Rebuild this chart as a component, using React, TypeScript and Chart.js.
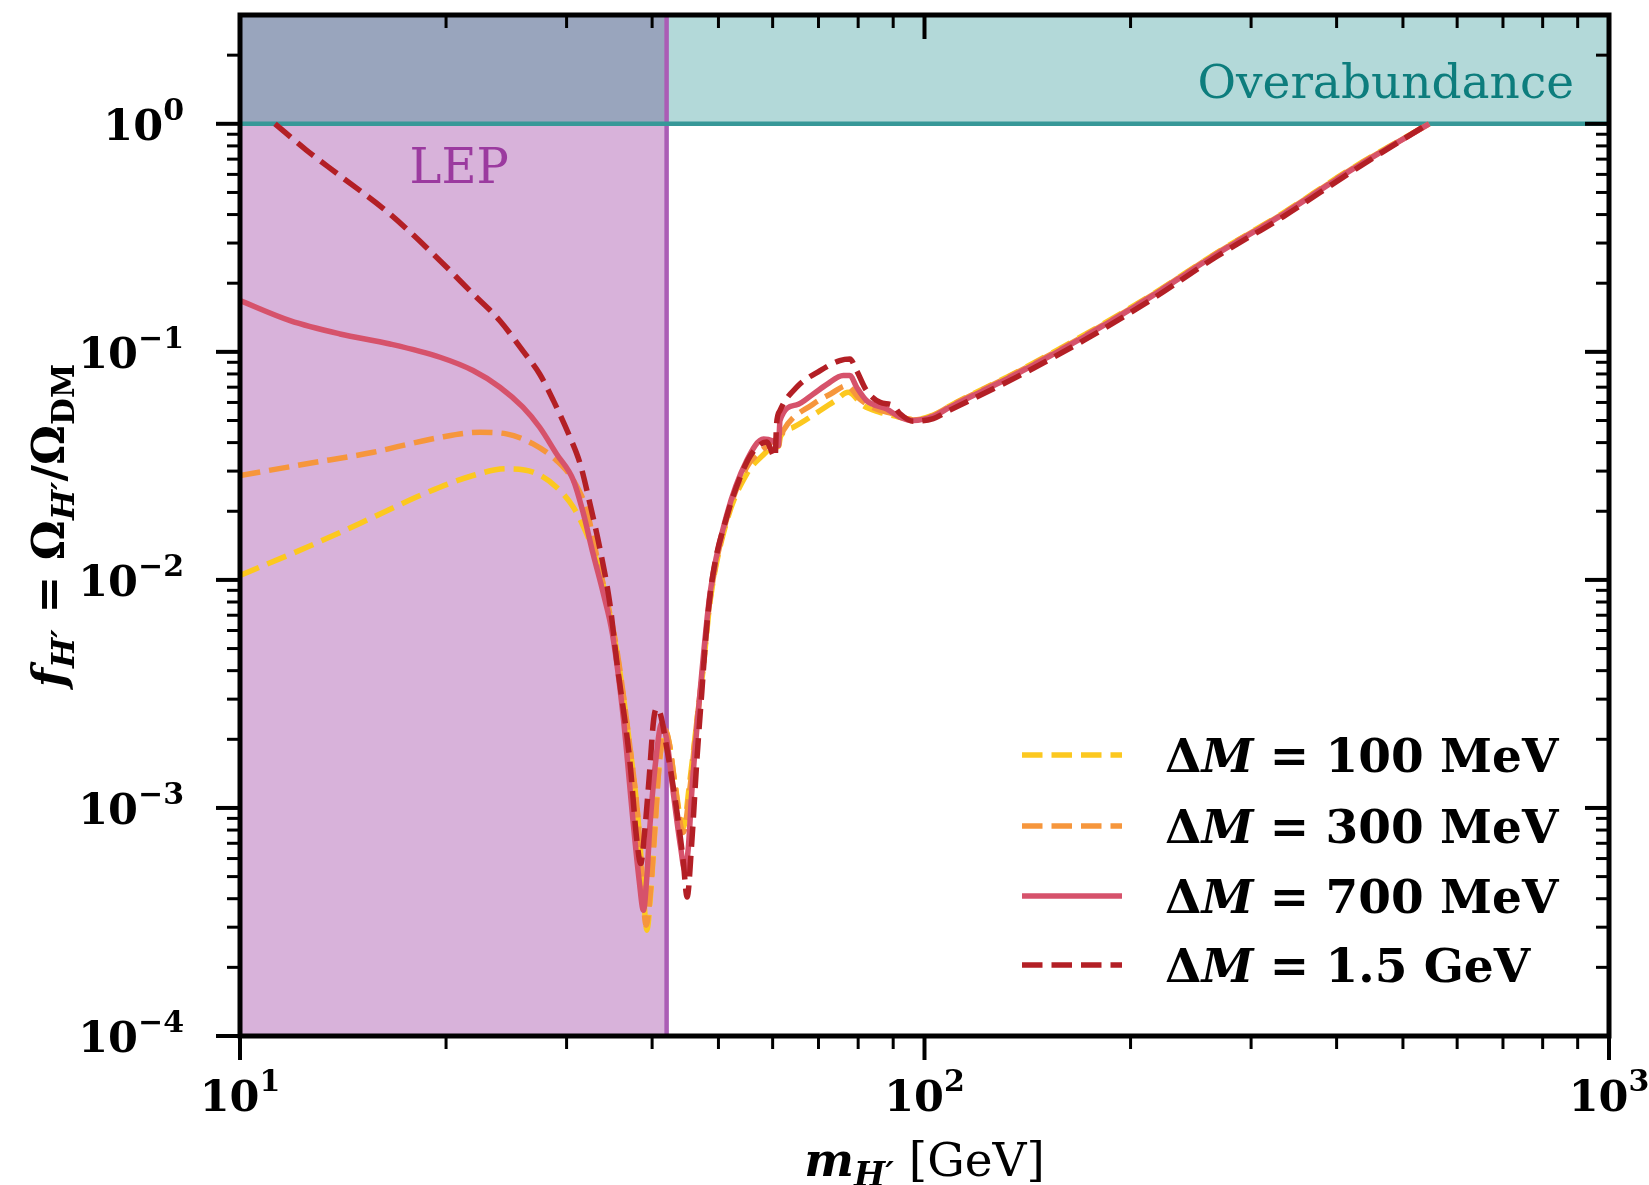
import { useEffect, useRef } from "react";
import { Chart, registerables } from "chart.js";

Chart.register(...registerables);

// ---------------- data ----------------
const LEP_LIMIT = 42; // GeV
const OVERABUNDANCE = 1;
const X_MIN = 10;
const X_MAX = 1000;
const Y_MIN = 1e-4;
const Y_MAX = 3;
const xMajorExps = [1, 2, 3];
const yMajorExps = [-4, -3, -2, -1, 0];
const seriesLabels = ["100 MeV", "300 MeV", "700 MeV", "1.5 GeV"];
const seriesColors = ["#fcc81f", "#f6963c", "#d6526b", "#b31f25"];

// ΔM = 100 MeV
const m100 = [10, 12.52, 15.66, 18.53, 21.9, 24.5, 26.8, 29, 30.7, 32.1, 33.3, 34.5, 35.5, 37, 38.2, 38.8, 39.3, 39.8, 40.4, 41, 41.8, 42.4, 43.2, 44.4, 45.4, 46.5, 47.5, 48.6, 51.4, 55, 58.5, 60.5, 61.2, 61.6, 64.3, 70.4, 74, 77.4, 81.4, 86.1, 90, 96.3, 103, 108.9, 136.3, 170.6, 213.5, 267.3, 334.4, 418.3, 546];
const f100 = [0.01047, 0.0139, 0.01884, 0.0238, 0.0287, 0.0307, 0.0297, 0.0255, 0.0208, 0.0159, 0.0118, 0.0076, 0.0049, 0.002, 0.00086, 0.00045, 0.000291, 0.00042, 0.00083, 0.0016, 0.00219, 0.0019, 0.00128, 0.00082, 0.0013, 0.0024, 0.0041, 0.008, 0.018, 0.0292, 0.036, 0.0395, 0.0385, 0.0425, 0.0467, 0.0553, 0.061, 0.0665, 0.0581, 0.0543, 0.0525, 0.0505, 0.0528, 0.058, 0.0815, 0.118, 0.176, 0.272, 0.407, 0.63, 1.0];

// ΔM = 300 MeV
const m300 = [10, 12.52, 15.66, 19.6, 22.42, 24.5, 26.8, 29, 30.7, 32.1, 33.3, 34.5, 35.5, 37, 38.2, 38.7, 39.2, 39.8, 40.4, 41, 41.8, 42.4, 43.2, 44.4, 45.4, 46.5, 47.5, 48.6, 51.4, 55, 58.5, 60.5, 61.2, 62.2, 68.8, 73, 77, 80.4, 84.2, 90, 96.3, 103, 108.9, 136.3, 170.6, 213.5, 267.3, 334.4, 418.3, 546];
const f300 = [0.0287, 0.0323, 0.0363, 0.0422, 0.0444, 0.0437, 0.0395, 0.0334, 0.0273, 0.0202, 0.0122, 0.0077, 0.005, 0.002, 0.00085, 0.00046, 0.000306, 0.00044, 0.00085, 0.0016, 0.00219, 0.0019, 0.00126, 0.00078, 0.0012, 0.0024, 0.0042, 0.0082, 0.0185, 0.0312, 0.038, 0.041, 0.0398, 0.0452, 0.0591, 0.0655, 0.0711, 0.0622, 0.0568, 0.0535, 0.0503, 0.0526, 0.0578, 0.081, 0.117, 0.175, 0.271, 0.405, 0.627, 1.0];

// ΔM = 700 MeV
const m700 = [10, 11.83, 14, 16.56, 19.6, 21.9, 23.97, 25.9, 27.4, 29, 30.7, 31.75, 32.8, 33.95, 35, 36.3, 37.55, 38.3, 38.85, 39.3, 39.7, 40.6, 41.3, 42, 42.96, 44, 44.67, 45.2, 45.7, 46.98, 48.6, 51.4, 55, 58.2, 59.9, 61.2, 61.5, 65, 68.8, 72, 76.1, 77.8, 79.6, 82.3, 88, 92.1, 96.3, 103, 108.9, 136.3, 170.6, 213.5, 267.3, 334.4, 418.3, 546];
const f700 = [0.1677, 0.137, 0.1198, 0.1083, 0.0947, 0.0828, 0.07, 0.0572, 0.0467, 0.0357, 0.0273, 0.0195, 0.013, 0.0087, 0.0058, 0.0025, 0.00085, 0.00048, 0.000356, 0.0005, 0.00083, 0.00173, 0.00234, 0.002, 0.00116, 0.00068, 0.00053, 0.00068, 0.00116, 0.00317, 0.0087, 0.0192, 0.0334, 0.0415, 0.0408, 0.0388, 0.05, 0.0585, 0.0654, 0.072, 0.0787, 0.0787, 0.07, 0.0611, 0.0562, 0.0517, 0.05, 0.0522, 0.0572, 0.08, 0.1158, 0.1734, 0.2686, 0.402, 0.622, 1.0];

// ΔM = 1.5 GeV
const m1500 = [11.25, 12.5, 14, 16.56, 19.6, 21.9, 23.97, 25.9, 27.4, 28.7, 30.35, 31.4, 32.45, 33.6, 34.7, 35.5, 37.1, 38, 38.5, 39, 39.6, 40.2, 40.6, 41.1, 42, 43.45, 44.4, 45, 45.7, 46.5, 47.26, 48.06, 49.1, 51.4, 53.8, 55.9, 58.8, 60.5, 60.8, 61.5, 65.06, 70.4, 75.2, 77.8, 79.6, 82.3, 86.1, 90, 92.1, 96.3, 103, 108.9, 136.3, 170.6, 213.5, 267.3, 334.4, 418.3, 544];
const f1500 = [1.0, 0.767, 0.592, 0.402, 0.251, 0.1795, 0.137, 0.101, 0.08, 0.0611, 0.0422, 0.0323, 0.0216, 0.01346, 0.00787, 0.00444, 0.00162, 0.00072, 0.00057, 0.00078, 0.00135, 0.00242, 0.00273, 0.0026, 0.00185, 0.00098, 0.00059, 0.000407, 0.0007, 0.00162, 0.00317, 0.0062, 0.01064, 0.01884, 0.0282, 0.0357, 0.0402, 0.0345, 0.0483, 0.0553, 0.07, 0.0828, 0.0916, 0.0931, 0.0828, 0.0676, 0.0601, 0.0581, 0.0535, 0.0496, 0.051, 0.0555, 0.0775, 0.112, 0.168, 0.262, 0.392, 0.61, 1.0];

const seriesMasses = [m100, m300, m700, m1500];
const seriesValues = [f100, f300, f700, f1500];
const seriesDashes: number[][] = [[20.5, 9], [20.5, 9], [], [20.5, 9]];

// ---------------- drawing helpers ----------------
const SERIF = "'DejaVu Serif', serif";
const LINE_W = 5.5;
const font = (size: number, weight = "normal", style = "normal") =>
  `${style} ${weight} ${size}px ${SERIF}`;

type Run = { t: string; f: string; dy?: number };

function drawRuns(ctx: CanvasRenderingContext2D, runs: Run[], x: number, y: number, align: "left" | "center" | "right") {
  let w = 0;
  for (const r of runs) {
    ctx.font = r.f;
    w += ctx.measureText(r.t).width;
  }
  let cx = align === "left" ? x : align === "center" ? x - w / 2 : x - w;
  ctx.textAlign = "left";
  ctx.textBaseline = "alphabetic";
  for (const r of runs) {
    ctx.font = r.f;
    ctx.fillText(r.t, cx, y + (r.dy || 0));
    cx += ctx.measureText(r.t).width;
  }
}

function powLabel(exp: number): Run[] {
  const e = exp < 0 ? "\u2212" + Math.abs(exp) : String(exp);
  return [
    { t: "10", f: font(43, "bold") },
    { t: e, f: font(30, "bold"), dy: -20 },
  ];
}

function line(ctx: CanvasRenderingContext2D, x1: number, y1: number, x2: number, y2: number) {
  ctx.beginPath();
  ctx.moveTo(x1, y1);
  ctx.lineTo(x2, y2);
  ctx.stroke();
}

const decorPlugin = {
  id: "decor",
  beforeDatasetsDraw(chart: any) {
    const { ctx, chartArea: a, scales } = chart;
    const xs = scales.x;
    const ys = scales.y;
    const xl = xs.getPixelForValue(LEP_LIMIT);
    const y1 = ys.getPixelForValue(OVERABUNDANCE);
    ctx.save();
    ctx.fillStyle = "#d8b2da";
    ctx.fillRect(a.left, y1, xl - a.left, a.bottom - y1);
    ctx.fillStyle = "#99a5bd";
    ctx.fillRect(a.left, a.top, xl - a.left, y1 - a.top);
    ctx.fillStyle = "#b3d9d9";
    ctx.fillRect(xl, a.top, a.right - xl, y1 - a.top);
    ctx.lineWidth = 4.5;
    ctx.strokeStyle = "#ab5db5";
    line(ctx, xl, a.top, xl, a.bottom);
    ctx.strokeStyle = "#379898";
    line(ctx, a.left, y1, a.right, y1);
    ctx.restore();
  },
  afterDatasetsDraw(chart: any) {
    const { ctx, chartArea: a, scales } = chart;
    const xs = scales.x;
    const ys = scales.y;
    ctx.save();

    // region labels
    ctx.fillStyle = "#9b3a9f";
    drawRuns(ctx, [{ t: "LEP", f: font(48) }], xs.getPixelForValue(20.9), ys.getPixelForValue(0.55), "center");
    ctx.fillStyle = "#0d7d7d";
    drawRuns(ctx, [{ t: "Overabundance", f: font(47) }], xs.getPixelForValue(889), ys.getPixelForValue(1.3), "right");

    // legend
    const legX1 = 1022;
    const legX2 = 1122;
    const legTextX = 1165;
    const legY = [755, 826, 896, 965];
    for (let i = 0; i < seriesLabels.length; i++) {
      ctx.strokeStyle = seriesColors[i];
      ctx.lineWidth = LINE_W;
      ctx.setLineDash(seriesDashes[i]);
      ctx.lineCap = "butt";
      line(ctx, legX1, legY[i], legX2, legY[i]);
      ctx.setLineDash([]);
      ctx.fillStyle = "#000";
      drawRuns(
        ctx,
        [
          { t: "\u0394", f: font(47, "bold") },
          { t: "M", f: font(47, "bold", "italic") },
          { t: " = " + seriesLabels[i], f: font(47, "bold") },
        ],
        legTextX,
        legY[i] + 17,
        "left"
      );
    }

    // spines
    ctx.strokeStyle = "#000";
    ctx.lineWidth = 5;
    ctx.strokeRect(a.left, a.top, a.right - a.left, a.bottom - a.top);

    // ticks
    const MAJ = 24;
    const MIN = 13;
    const xTicks: [number, boolean][] = [];
    for (let e = 1; e <= 3; e++) {
      xTicks.push([Math.pow(10, e), true]);
      if (e < 3) for (let k = 2; k <= 9; k++) xTicks.push([k * Math.pow(10, e), false]);
    }
    for (const [v, major] of xTicks) {
      const px = xs.getPixelForValue(v);
      ctx.lineWidth = major ? 4 : 3;
      const len = major ? MAJ : MIN;
      line(ctx, px, a.bottom, px, a.bottom + len);
      line(ctx, px, a.top, px, a.top + len);
    }
    const yTicks: [number, boolean][] = [];
    for (let e = -4; e <= 0; e++) {
      yTicks.push([Math.pow(10, e), true]);
      for (let k = 2; k <= 9; k++) {
        const v = k * Math.pow(10, e);
        if (v < Y_MAX) yTicks.push([v, false]);
      }
    }
    for (const [v, major] of yTicks) {
      const py = ys.getPixelForValue(v);
      ctx.lineWidth = major ? 4 : 3;
      const len = major ? MAJ : MIN;
      line(ctx, a.left - len, py, a.left, py);
      line(ctx, a.right - len, py, a.right, py);
    }

    // tick labels
    ctx.fillStyle = "#000";
    for (const e of xMajorExps) {
      drawRuns(ctx, powLabel(e), xs.getPixelForValue(Math.pow(10, e)), 1111, "center");
    }
    for (const e of yMajorExps) {
      drawRuns(ctx, powLabel(e), a.left - 56, ys.getPixelForValue(Math.pow(10, e)) + 16, "right");
    }

    // axis titles
    drawRuns(
      ctx,
      [
        { t: "m", f: font(47, "bold", "italic") },
        { t: "H\u2032", f: font(33, "bold", "italic"), dy: 10 },
        { t: " [GeV]", f: font(47) },
      ],
      (a.left + a.right) / 2,
      1176,
      "center"
    );
    ctx.translate(64, (a.top + a.bottom) / 2);
    ctx.rotate(-Math.PI / 2);
    drawRuns(
      ctx,
      [
        { t: "f", f: font(45, "bold", "italic") },
        { t: "H\u2032", f: font(32, "bold", "italic"), dy: 10 },
        { t: " = ", f: font(45, "bold") },
        { t: "\u03A9", f: font(45, "bold") },
        { t: "H\u2032", f: font(32, "bold", "italic"), dy: 10 },
        { t: "/", f: font(45, "bold") },
        { t: "\u03A9", f: font(45, "bold") },
        { t: "DM", f: font(31, "bold"), dy: 10 },
      ],
      0,
      0,
      "center"
    );
    ctx.restore();
  },
};

export default function App() {
  const canvasRef = useRef<HTMLCanvasElement | null>(null);

  useEffect(() => {
    document.body.style.margin = "0";
    document.body.style.overflow = "hidden";
    const canvas = canvasRef.current;
    if (!canvas) return;
    const order = [3, 2, 1, 0];
    const datasets = seriesLabels.map((lab, i) => ({
      label: "\u0394M = " + lab,
      data: seriesMasses[i].map((m, j) => ({ x: m, y: seriesValues[i][j] })),
      borderColor: seriesColors[i],
      backgroundColor: seriesColors[i],
      borderWidth: LINE_W,
      borderDash: seriesDashes[i],
      borderCapStyle: "butt" as const,
      borderJoinStyle: "round" as const,
      pointRadius: 0,
      fill: false,
      cubicInterpolationMode: "monotone" as const,
      order: order[i],
    }));
    const chart = new Chart(canvas, {
      type: "line",
      data: { datasets },
      plugins: [decorPlugin],
      options: {
        responsive: false,
        animation: false,
        devicePixelRatio: 1,
        layout: { padding: { left: 0, right: 40, top: 15, bottom: 0 } },
        plugins: { legend: { display: false }, tooltip: { enabled: false } },
        scales: {
          x: {
            type: "logarithmic",
            min: X_MIN,
            max: X_MAX,
            grid: { display: false },
            border: { display: false },
            ticks: { display: false },
            afterFit: (s: any) => {
              s.height = 149;
            },
          },
          y: {
            type: "logarithmic",
            min: Y_MIN,
            max: Y_MAX,
            grid: { display: false },
            border: { display: false },
            ticks: { display: false },
            afterFit: (s: any) => {
              s.width = 240;
            },
          },
        },
      },
    } as any);
    return () => chart.destroy();
  }, []);

  return <canvas ref={canvasRef} width={1649} height={1185} style={{ display: "block" }} />;
}
